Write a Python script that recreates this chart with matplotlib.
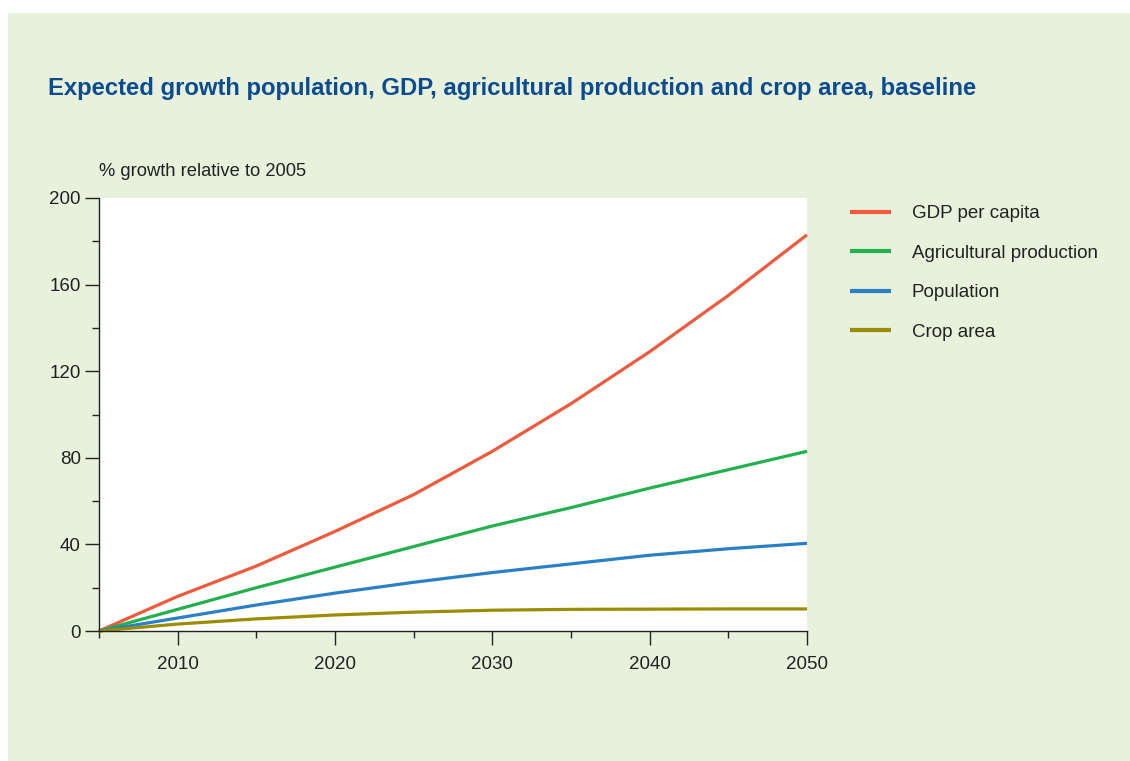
import matplotlib
matplotlib.use("Agg")
import matplotlib.pyplot as plt
from matplotlib.patches import Rectangle
from matplotlib.ticker import MultipleLocator

years = [2005, 2010, 2015, 2020, 2025, 2030, 2035, 2040, 2045, 2050]
gdp_per_capita = [0, 16, 30, 46, 63, 83, 105, 129, 155, 183]
agri_production = [0, 10, 20, 29.5, 39, 48.5, 57, 66, 74.5, 83]
population = [0, 6, 12, 17.5, 22.5, 27, 31, 35, 38, 40.5]
crop_area = [0, 3.2, 5.6, 7.4, 8.7, 9.6, 10.0, 10.1, 10.2, 10.2]

series_names = ["GDP per capita", "Agricultural production", "Population", "Crop area"]
series_values = [gdp_per_capita, agri_production, population, crop_area]
series_colors = ["#f05a3c", "#22b14c", "#2a80c6", "#9b8c00"]

x_ticks = [2010, 2020, 2030, 2040, 2050]
y_ticks = [0, 40, 80, 120, 160, 200]

W, H = 1130, 761
fig = plt.figure(figsize=(W / 100, H / 100), dpi=100, facecolor="white")
plt.rcParams["font.family"] = ["Liberation Sans", "DejaVu Sans"]

# green panel behind everything
fig.patches.append(Rectangle((8 / W, 0), 1 - 8 / W, 1 - 13 / H,
                             transform=fig.transFigure, facecolor="#e8f1dc",
                             edgecolor="none", zorder=-10))

left, right, top, bottom = 99, 807, 198, 631
ax = fig.add_axes([left / W, 1 - bottom / H, (right - left) / W, (bottom - top) / H])
ax.set_facecolor("white")

for name, vals, col in zip(series_names, series_values, series_colors):
    ax.plot(years, vals, color=col, lw=2.3, label=name, solid_capstyle="butt", clip_on=False)

ax.set_xlim(2005, 2050)
ax.set_ylim(0, 200)
ax.set_xticks(x_ticks)
ax.xaxis.set_minor_locator(MultipleLocator(5))
ax.set_yticks(y_ticks)
ax.yaxis.set_minor_locator(MultipleLocator(20))

for s in ["top", "right"]:
    ax.spines[s].set_visible(False)
for s in ["left", "bottom"]:
    ax.spines[s].set_color("#222222")
    ax.spines[s].set_linewidth(1.0)

ax.tick_params(axis="both", which="major", length=10, width=1.0, color="#222222",
               labelsize=13.5, labelcolor="#222222", direction="out")
ax.tick_params(axis="both", which="minor", length=5, width=1.0, color="#222222", direction="out")
ax.tick_params(axis="x", which="major", pad=8)
ax.tick_params(axis="y", which="major", pad=3)

fig.text(48 / W, 1 - 88 / H,
         "Expected growth population, GDP, agricultural production and crop area, baseline",
         fontsize=17.2, fontweight="bold", color="#0a4c8f", va="center", ha="left")
fig.text(99 / W, 1 - 172 / H, "% growth relative to 2005", fontsize=13.2,
         color="#222222", va="center", ha="left")

leg = ax.legend(loc="upper left", bbox_to_anchor=(850 / W, 1 - 205 / H),
                bbox_transform=fig.transFigure, frameon=False, fontsize=13.5,
                handlelength=2.2, handletextpad=1.1, labelspacing=1.2,
                borderpad=0, borderaxespad=0, labelcolor="#222222")
for line in leg.get_lines():
    line.set_linewidth(3)

fig.savefig("out.png", dpi=100, facecolor="white")
